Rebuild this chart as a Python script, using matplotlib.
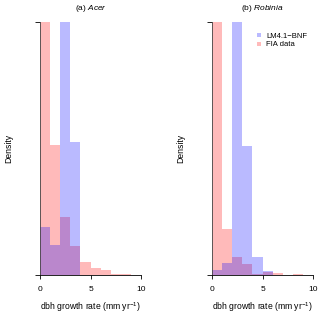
import numpy as np
import matplotlib
matplotlib.use("Agg")
import matplotlib.pyplot as plt
from matplotlib.patches import Patch

plt.rcParams["font.family"] = ["Liberation Sans", "DejaVu Sans"]
plt.rcParams["mathtext.fontset"] = "custom"
plt.rcParams["mathtext.rm"] = "Liberation Sans"
plt.rcParams["mathtext.it"] = "Liberation Sans:italic"

# bin edges for growth rate (mm/yr), width 1
bin_edges = np.arange(0, 11)

# density per bin (top of axis = 0.3, first/tallest bins clipped)
acer_lm = [0.057, 0.035, 0.75, 0.158, 0, 0, 0, 0, 0, 0]
acer_fia = [0.709, 0.154, 0.069, 0.034, 0.015, 0.0088, 0.0056, 0.0017, 0.0017, 0]
robinia_lm = [0.0064, 0.0142, 0.80, 0.153, 0.0213, 0.0047, 0, 0, 0, 0]
robinia_fia = [0.90, 0.0545, 0.0213, 0.0135, 0.0017, 0.0036, 0.0028, 0, 0.0015, 0]

panels = [("(a) ", "Acer", acer_lm, acer_fia),
          ("(b) ", "Robinia", robinia_lm, robinia_fia)]

blue = (0, 0, 1, 0.27)
pink = (1, 0, 0, 0.27)
ytop = 0.3

fig = plt.figure(figsize=(3.2, 3.15), dpi=100)
lefts = [39.7 / 320, 211.7 / 320]
width = 101.7 / 320
bottom = 40 / 315
height = 253 / 315

for i, (prefix, genus, lm, fia) in enumerate(panels):
    ax = fig.add_axes([lefts[i], bottom, width, height])
    ax.bar(bin_edges[:-1], fia, width=1, align="edge", color=pink, linewidth=0, label="FIA data")
    ax.bar(bin_edges[:-1], lm, width=1, align="edge", color=blue, linewidth=0, label="LM4.1\u2212BNF")
    ax.set_xlim(0, 10)
    ax.set_ylim(0, ytop)
    ax.set_xticks([0, 5, 10])
    ax.set_yticks([0, ytop])
    ax.set_yticklabels([])
    ax.tick_params(axis="x", length=3, width=0.6, pad=5, labelsize=6)
    ax.tick_params(axis="y", length=3.6, width=0.6)
    for s in ("top", "right"):
        ax.spines[s].set_visible(False)
    ax.spines["left"].set_linewidth(0.6)
    ax.spines["left"].set_color("#444444")
    ax.spines["bottom"].set_linewidth(0.6)
    ax.set_title(prefix + r"$\it{" + genus + "}$", fontsize=6, pad=9)
    ax.set_xlabel(r"dbh growth rate (mm yr$^{-1}$)", fontsize=6.2, labelpad=5)
    ax.set_ylabel("Density", fontsize=6.2, labelpad=12)
    if i == 1:
        handles = [Patch(color=blue, linewidth=0), Patch(color=pink, linewidth=0)]
        ax.legend(handles, ["LM4.1\u2212BNF", "FIA data"], loc="upper left",
                  bbox_to_anchor=(0.377, 0.984), frameon=False, fontsize=5.5,
                  handlelength=0.55, handleheight=0.5, handletextpad=0.65,
                  labelspacing=0.2)

fig.savefig("out.png", dpi=100)
